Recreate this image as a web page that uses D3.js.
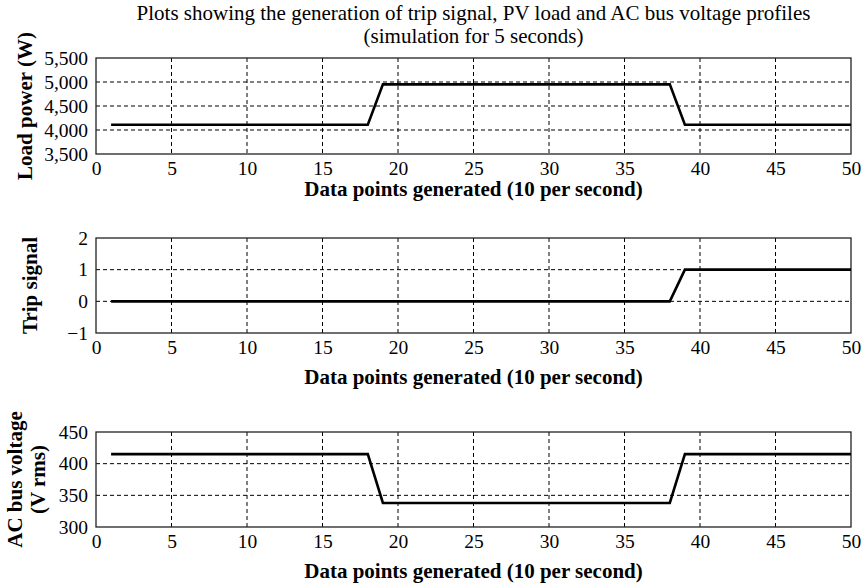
<!DOCTYPE html>
<html>
<head>
<meta charset="utf-8">
<script src="https://cdn.jsdelivr.net/npm/d3@7"></script>
<style>
body { margin: 0; background: #fff; }
svg { font-family: "Liberation Serif", "DejaVu Serif", serif; }
</style>
</head>
<body>
<div id="chart"></div>
<script>
// data points 1..50 (10 per second)
const dataPoints = [1,2,3,4,5,6,7,8,9,10,11,12,13,14,15,16,17,18,19,20,21,22,23,24,25,26,27,28,29,30,31,32,33,34,35,36,37,38,39,40,41,42,43,44,45,46,47,48,49,50];
const loadPower = [4110,4110,4110,4110,4110,4110,4110,4110,4110,4110,4110,4110,4110,4110,4110,4110,4110,4110,
    4950,4950,4950,4950,4950,4950,4950,4950,4950,4950,4950,4950,4950,4950,4950,4950,4950,4950,4950,4950,
    4110,4110,4110,4110,4110,4110,4110,4110,4110,4110,4110,4110];
const tripSignal = [0,0,0,0,0,0,0,0,0,0,0,0,0,0,0,0,0,0,0,0,0,0,0,0,0,0,0,0,0,0,0,0,0,0,0,0,0,0,
    1,1,1,1,1,1,1,1,1,1,1,1];
const acVoltage = [415,415,415,415,415,415,415,415,415,415,415,415,415,415,415,415,415,415,
    338,338,338,338,338,338,338,338,338,338,338,338,338,338,338,338,338,338,338,338,
    415,415,415,415,415,415,415,415,415,415,415,415];

const xTicks = [0,5,10,15,20,25,30,35,40,45,50];
const loadTicks = [3500,4000,4500,5000,5500];
const tripTicks = [-1,0,1,2];
const voltTicks = [300,350,400,450];

const titleLines = ["Plots showing the generation of trip signal, PV load and AC bus voltage profiles",
                    "(simulation for 5 seconds)"];
const xLabel = "Data points generated (10 per second)";

const width = 868, height = 588;
const left = 96, right = 851;

const svg = d3.select("#chart").append("svg")
    .attr("width", width)
    .attr("height", height);

svg.selectAll(".title").data(titleLines).enter().append("text")
    .attr("class", "title")
    .attr("x", (left + right) / 2)
    .attr("y", (d, i) => 20 + i * 23)
    .attr("text-anchor", "middle")
    .style("font-size", "21px")
    .text(d => d);

let xScale = d3.scaleLinear().domain([0, 50]).range([left, right]);

let panels = [
    {values: loadPower, ticks: loadTicks, domain: [3500, 5500], top: 58, bottom: 154, fmt: d3.format(","),
        ylabel: ["Load power (W)"], ylabX: [32], xlabY: 196},
    {values: tripSignal, ticks: tripTicks, domain: [-1, 2], top: 238, bottom: 333, fmt: d3.format("d"),
        ylabel: ["Trip signal"], ylabX: [37], xlabY: 384},
    {values: acVoltage, ticks: voltTicks, domain: [300, 450], top: 432, bottom: 527, fmt: d3.format("d"),
        ylabel: ["AC bus voltage", "(V rms)"], ylabX: [22, 45], xlabY: 578}
];

panels.forEach(p => {
    let yScale = d3.scaleLinear().domain(p.domain).range([p.bottom, p.top]);
    let g = svg.append("g");

    // grid
    g.append("g").selectAll("line").data(xTicks.slice(1, -1)).enter().append("line")
        .attr("x1", d => xScale(d)).attr("x2", d => xScale(d))
        .attr("y1", p.top).attr("y2", p.bottom)
        .attr("stroke", "#000").attr("stroke-width", 1)
        .attr("stroke-dasharray", "4,3");
    g.append("g").selectAll("line").data(p.ticks.slice(1, -1)).enter().append("line")
        .attr("x1", left).attr("x2", right)
        .attr("y1", d => yScale(d)).attr("y2", d => yScale(d))
        .attr("stroke", "#000").attr("stroke-width", 1)
        .attr("stroke-dasharray", "4,3");

    // frame
    g.append("rect")
        .attr("x", left).attr("y", p.top)
        .attr("width", right - left).attr("height", p.bottom - p.top)
        .attr("fill", "none").attr("stroke", "#222").attr("stroke-width", 1.3);

    // axes
    let xAxis = g.append("g")
        .attr("transform", "translate(0," + p.bottom + ")")
        .call(d3.axisBottom(xScale).tickValues(xTicks).tickSize(0).tickPadding(7));
    let yAxis = g.append("g")
        .attr("transform", "translate(" + left + ",0)")
        .call(d3.axisLeft(yScale).tickValues(p.ticks).tickFormat(p.fmt).tickSize(0).tickPadding(8));
    [xAxis, yAxis].forEach(a => {
        a.select(".domain").remove();
        a.selectAll("text").style("font-size", "19.5px").attr("fill", "#000")
            .style("font-family", "Liberation Serif");
    });

    // data line
    let line = d3.line().x((d, i) => xScale(dataPoints[i])).y(d => yScale(d));
    g.append("path").datum(p.values)
        .attr("d", line)
        .attr("fill", "none").attr("stroke", "#000").attr("stroke-width", 2.6);

    // labels
    g.append("text")
        .attr("x", (left + right) / 2).attr("y", p.xlabY)
        .attr("text-anchor", "middle")
        .style("font-size", "21px").style("font-weight", "bold")
        .text(xLabel);

    let cy = (p.top + p.bottom) / 2;
    g.selectAll(".ylab").data(p.ylabel).enter().append("text")
        .attr("transform", (d, i) => "translate(" + p.ylabX[i] + "," + cy + ") rotate(-90)")
        .attr("text-anchor", "middle")
        .style("font-size", "21px").style("font-weight", "bold")
        .text(d => d);
});
</script>
</body>
</html>
